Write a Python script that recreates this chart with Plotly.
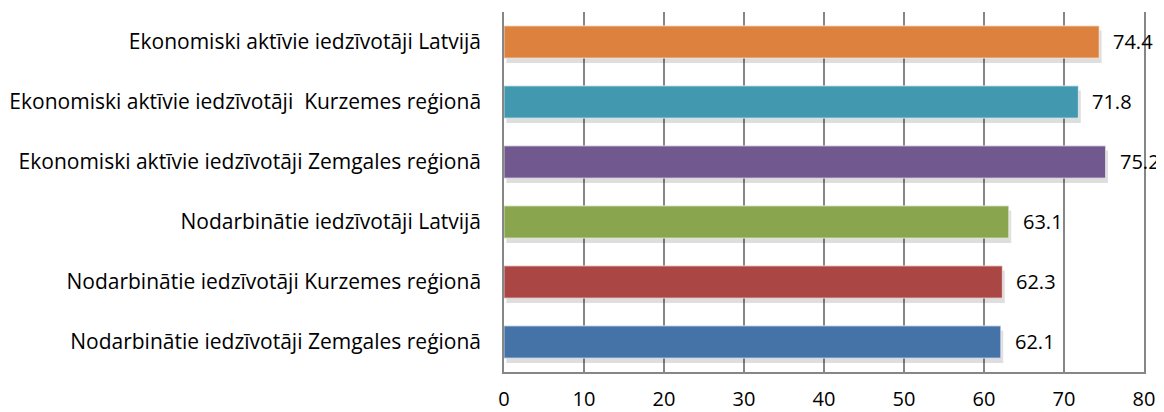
import plotly.graph_objects as go

categories = [
    "Nodarbinātie iedzīvotāji Zemgales reģionā",
    "Nodarbinātie iedzīvotāji Kurzemes reģionā",
    "Nodarbinātie iedzīvotāji Latvijā",
    "Ekonomiski aktīvie iedzīvotāji Zemgales reģionā",
    "Ekonomiski aktīvie iedzīvotāji \u00a0Kurzemes reģionā",
    "Ekonomiski aktīvie iedzīvotāji Latvijā",
]
values = [62.1, 62.3, 63.1, 75.2, 71.8, 74.4]
colors = ["#4572A7", "#AA4643", "#89A54E", "#71588F", "#4298AF", "#DC823E"]
x_ticks = [0, 10, 20, 30, 40, 50, 60, 70, 80]

FONT = "Open Sans"
bar_w = 0.54

fig = go.Figure()
# drop shadow
fig.add_trace(go.Bar(
    y=categories, x=values, orientation="h", base=0.3,
    width=bar_w, offset=-bar_w / 2 - 0.08,
    marker=dict(color="rgba(0,0,0,0.13)", line=dict(width=0)),
    hoverinfo="skip", showlegend=False,
))
fig.add_trace(go.Bar(
    y=categories, x=values, orientation="h",
    width=bar_w, offset=-bar_w / 2,
    marker=dict(color=colors, line=dict(color="rgba(255,255,255,0.55)", width=1.2)),
    showlegend=False,
))

for c, v in zip(categories, values):
    fig.add_annotation(x=v, y=c, text=f"{v:.1f}", showarrow=False,
                       xanchor="left", xshift=12, yshift=1,
                       font=dict(family=FONT, size=20, color="#000000"))

fig.update_layout(
    width=1156, height=404,
    margin=dict(l=496, r=20, t=4, b=40, autoexpand=False),
    barmode="overlay",
    plot_bgcolor="white", paper_bgcolor="white",
    font=dict(family=FONT, size=20, color="#000000"),
    xaxis=dict(range=[0, 80], tickvals=x_ticks, showgrid=True,
               gridcolor="#868686", gridwidth=1.5,
               showline=True, linecolor="#868686", linewidth=1.5,
               zeroline=False, ticks="", tickfont=dict(size=20, family=FONT),
               ticklabelstandoff=8, automargin=False),
    yaxis=dict(type="category", categoryorder="array", categoryarray=categories,
               range=[-0.5, 5.5], showgrid=False,
               showline=True, linecolor="#868686", linewidth=1.5, mirror=True,
               ticks="", ticklabelstandoff=17, automargin=False,
               tickfont=dict(size=21, family=FONT)),
)

fig.write_html("out.html")
